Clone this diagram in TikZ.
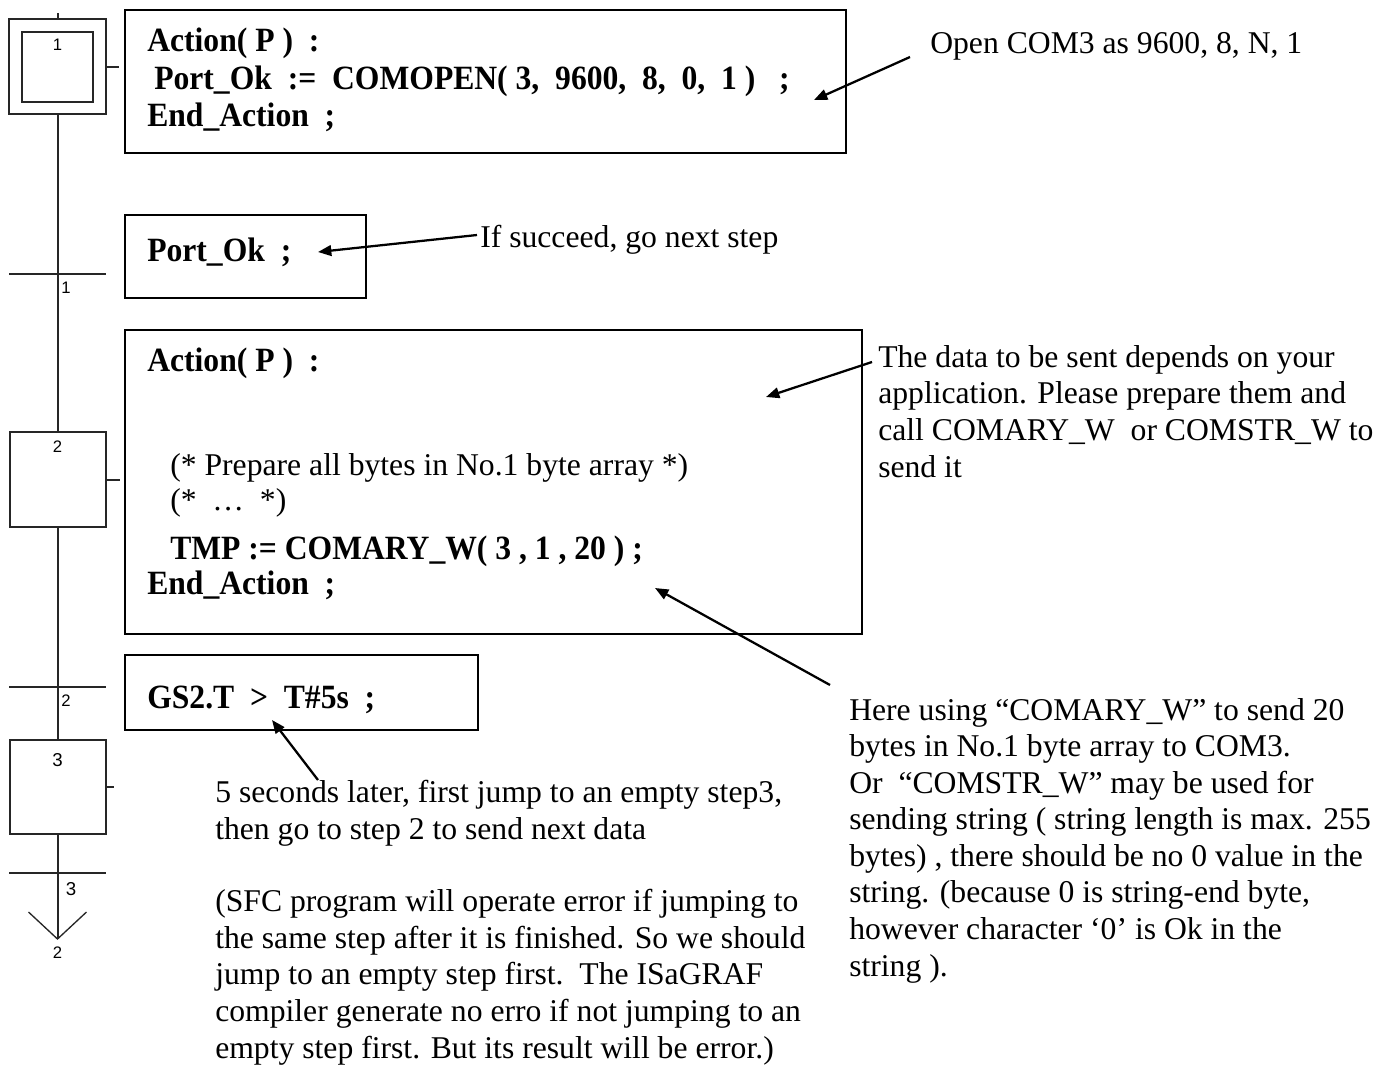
\documentclass[tikz,border=0pt]{standalone}
\usepackage{fontspec}
\setmainfont{Liberation Serif}
\newfontfamily\codefont{Liberation Serif}[FakeStretch=0.93]
\newfontfamily\sfcfont{Liberation Sans}
\usetikzlibrary{arrows.meta}
\begin{document}
\begin{tikzpicture}[x=0.75pt,y=-0.75pt,
  sfcline/.style={line width=1.5pt, black!85},
  stepbox/.style={draw, line width=1.5pt, black!85, inner sep=0pt},
  steplabel/.style={inner sep=0pt, font=\sfcfont\fontsize{12.5}{14}\selectfont},
  codebox/.style={draw, line width=1.5pt, inner sep=0pt},
  code/.style={anchor=base west, inner sep=0pt, font=\codefont\bfseries\fontsize{25.5}{29}\selectfont},
  plain/.style={anchor=base west, inner sep=0pt, font=\fontsize{23.75}{27.4}\selectfont},
  note/.style={anchor=base west, inner sep=0pt, align=left, font=\fontsize{23.75}{27.4}\selectfont},
  pointer/.style={line width=1.7pt, -{Triangle[length=10pt,width=8pt]}}]
\useasboundingbox (0,0) rectangle (1399,1065);

% ---------------- SFC column ----------------
\node[stepbox, minimum width=72.75pt, minimum height=71.25pt] (s1) at (57.5,66.5) {};
\node[stepbox, minimum width=53.25pt, minimum height=52.5pt] (s1in) at (57.5,67) {};
\node[steplabel] (s1n) at (57.5,45) {1};
\node[stepbox, minimum width=72pt, minimum height=71.25pt] (s2) at (57.5,479.5) {};
\node[steplabel] (s2n) at (57.5,447) {2};
\node[stepbox, minimum width=72pt, minimum height=70.5pt] (s3) at (57.5,787) {};
\node[steplabel, font=\sfcfont\fontsize{14}{16}\selectfont] (s3n) at (57.5,760) {3};

\coordinate (top) at (57.5,13);
\coordinate (t1) at (57.5,274);
\coordinate (t2) at (57.5,687);
\coordinate (t3) at (57.5,873);
\coordinate (jmp) at (57.5,939);

\draw[sfcline] (top) -- (s1.north);
\draw[sfcline] (s1.south) -- (s2.north);
\draw[sfcline] (s2.south) -- (s3.north);
\draw[sfcline] (s3.south) -- (jmp);

\draw[sfcline] (t1) ++(-48.5,0) -- ++(97,0);
\draw[sfcline] (t2) ++(-48.5,0) -- ++(97,0);
\draw[sfcline] (t3) ++(-48.5,0) -- ++(97,0);
\node[steplabel] (t1n) at (66,288) {1};
\node[steplabel] (t2n) at (66,701) {2};
\node[steplabel, font=\sfcfont\fontsize{14}{16}\selectfont] (t3n) at (71,889) {3};

\draw[line width=1pt, black!85] (jmp) ++(-29,-27) -- (jmp) -- ++(29,-27);
\node[steplabel] (jmpn) at (57.5,953) {2};

\draw[sfcline] (s1.east) -- ++(12,0);
\draw[sfcline] (s2.east) -- ++(13,0);
\draw[sfcline] (s3.east) -- ++(7,0);

% ---------------- Code boxes ----------------
\node[codebox, minimum width=540.75pt, minimum height=107.25pt] (b1) at (485.5,81.5) {};
\node[code] (b1l1) at (147,51) {Action( P )\ \ :};
\node[code] (b1l2) at (154,89) {Port\_Ok\ \ :=\ \ COMOPEN( 3,\ \ 9600,\ \ 8,\ \ 0,\ \ 1 )\ \ \ ;};
\node[code] (b1l3) at (147,126) {End\_Action\ \ ;};

\node[codebox, minimum width=180.75pt, minimum height=62.25pt] (b2) at (245.5,256.5) {};
\node[code] (b2l1) at (147,261) {Port\_Ok\ \ ;};

\node[codebox, minimum width=552.75pt, minimum height=228pt] (b3) at (493.5,482) {};
\node[code] (b3l1) at (147,371) {Action( P )\ \ :};
\node[plain] (b3l2) at (170,475) {(* Prepare all bytes in No.1 byte array *)};
\node[plain] (b3l3) at (170,510) {(*\ \ …\ \ *)};
\node[code] (b3l4) at (170,559) {TMP := COMARY\_W( 3 , 1 , 20 ) ;};
\node[code] (b3l5) at (147,594) {End\_Action\ \ ;};

\node[codebox, minimum width=264.75pt, minimum height=56.25pt] (b4) at (301.5,692.5) {};
\node[code] (b4l1) at (147,708) {GS2.T\ \ >\ \ T\#5s\ \ ;};

% ---------------- Notes (multi-line nodes anchored at their last baseline) ----------------
\node[plain] (n1) at (930,53) {Open COM3 as 9600, 8, N, 1};
\node[plain] (n2) at (480,247) {If succeed, go next step};
\node[note] (n3) at (878,477) {The data to be sent depends on your\\application. Please prepare them and\\call COMARY\_W\ \ or COMSTR\_W to\\send it};
\node[note] (n4) at (849,976) {Here using “COMARY\_W” to send 20\\bytes in No.1 byte array to COM3.\\Or\ \ “COMSTR\_W” may be used for\\sending string ( string length is max. 255\\bytes) , there should be no 0 value in the\\string. (because 0 is string-end byte,\\however character ‘0’ is Ok in the\\string ).};
\node[note] (n5) at (215,839) {5 seconds later, first jump to an empty step3,\\then go to step 2 to send next data};
\node[note] (n6) at (215,1058) {(SFC program will operate error if jumping to\\the same step after it is finished. So we should\\jump to an empty step first.\ \ The ISaGRAF\\compiler generate no erro if not jumping to an\\empty step first. But its result will be error.)};

% ---------------- Pointers ----------------
\coordinate (p1t) at (910,57);   \coordinate (p1h) at (814,100);
\coordinate (p2t) at (477,235);  \coordinate (p2h) at (318,252);
\coordinate (p3t) at (872,362);  \coordinate (p3h) at (766,397);
\coordinate (p4t) at (830,685);  \coordinate (p4h) at (655,588);
\coordinate (p5t) at (318,780);  \coordinate (p5h) at (272,720);
\draw[pointer] (p1t) -- (p1h);
\draw[pointer] (p2t) -- (p2h);
\draw[pointer] (p3t) -- (p3h);
\draw[pointer] (p4t) -- (p4h);
\draw[pointer] (p5t) -- (p5h);
\end{tikzpicture}
\end{document}
